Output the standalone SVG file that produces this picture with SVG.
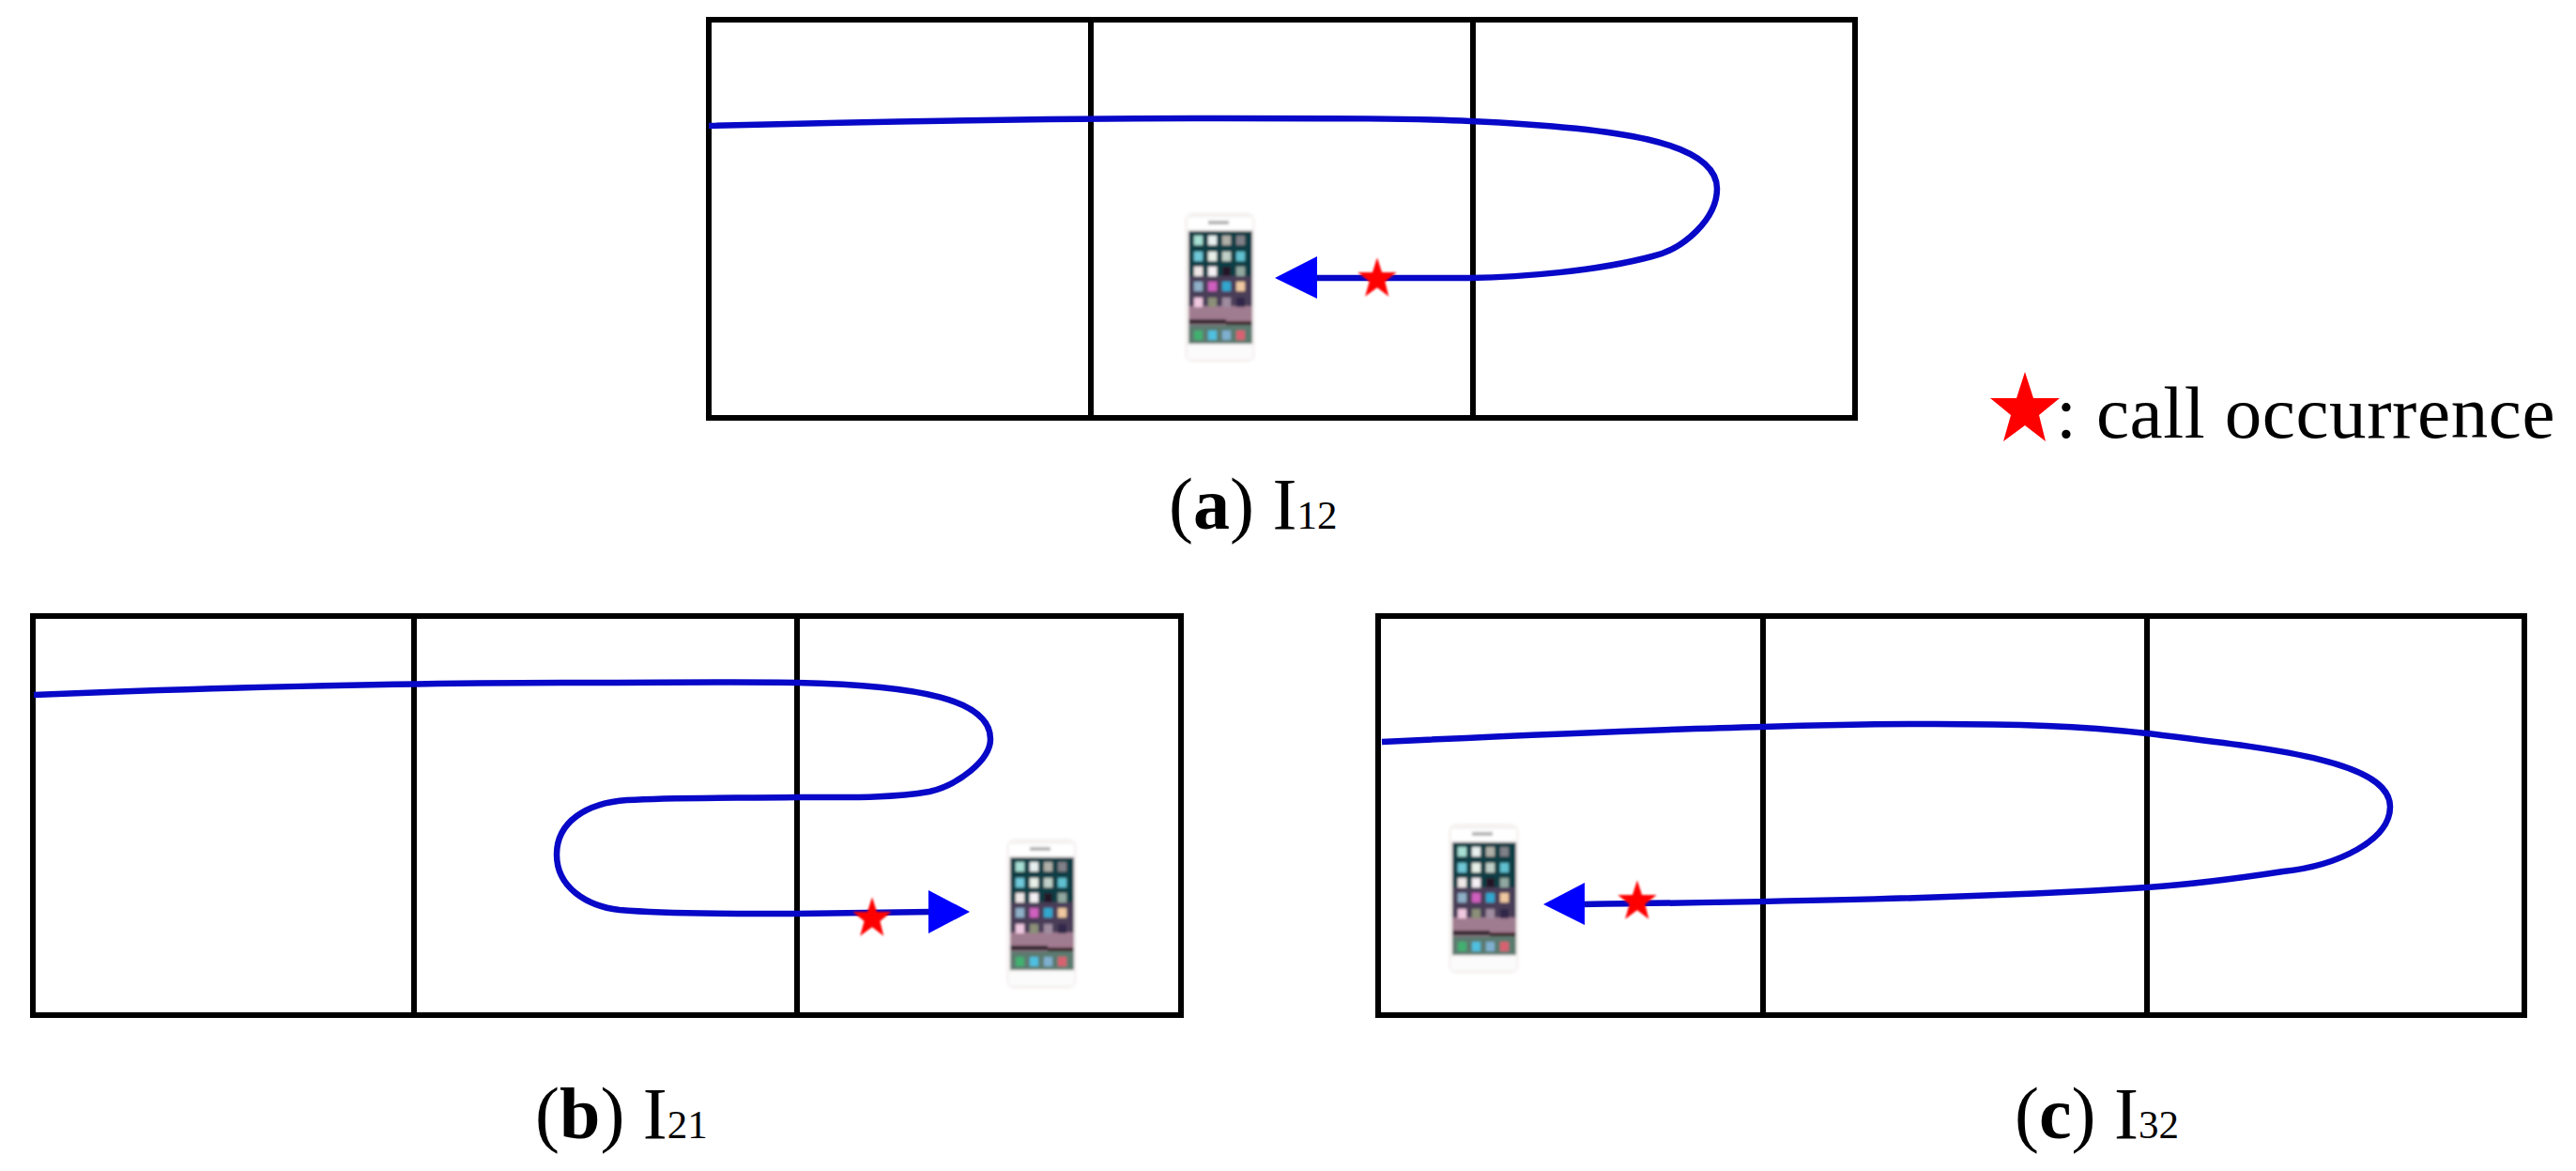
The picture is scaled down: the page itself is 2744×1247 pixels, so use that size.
<svg xmlns="http://www.w3.org/2000/svg" xmlns:xlink="http://www.w3.org/1999/xlink" width="2744" height="1247" viewBox="0 0 2744 1247">
<style>
.grid{fill:none;stroke:#000;stroke-width:6}
.route{fill:none;stroke:#0808c8;stroke-width:6.5;stroke-linejoin:round}
.head{fill:#0000ff}
.star{fill:#ff0000}
text{font-family:"Liberation Serif","Times New Roman",serif;fill:#000}
.cap{font-size:78px}
.cap .b{font-weight:bold}
.cap .s{font-size:43px}
.i{width:9px;height:10px}
</style>
<defs>
<filter id="soft" x="-10%" y="-10%" width="120%" height="120%"><feGaussianBlur stdDeviation="1.6"/></filter>
<filter id="softS" x="-20%" y="-20%" width="140%" height="140%"><feGaussianBlur stdDeviation="0.8"/></filter>
<polygon id="starShape" points="0,-37 9,-9 37,-9 15,9 22,37 0,20 -23,37 -15,9 -37,-9 -9,-9"/>
<g id="phone" filter="url(#soft)">
<rect x="0" y="0" width="75" height="160" rx="9" fill="#f6f2f2"/>
<rect x="3" y="6" width="69" height="12" fill="#ffffff"/>
<rect x="25" y="9" width="22" height="4" fill="#b0b0b0"/>
<rect x="3" y="142" width="69" height="14" fill="#fbfbfb"/>
<rect x="4" y="20" width="68" height="120" fill="#2c3a44"/>
<rect x="4" y="20" width="68" height="48" fill="#0f3c44"/>
<rect x="4" y="68" width="68" height="40" fill="#4a3c58"/>
<rect x="4" y="100" width="68" height="22" fill="#a07c90"/>
<rect x="4" y="114" width="40" height="5" fill="#30242c"/>
<rect x="44" y="116" width="28" height="6" fill="#40242c"/>
<rect x="4" y="120" width="68" height="20" fill="#5c7a70"/>
<rect class="i" x="10" y="25" fill="#a8e0d4"/>
<rect class="i" x="25" y="25" fill="#e8f0f0"/>
<rect class="i" x="40" y="25" fill="#b0b0a8"/>
<rect class="i" x="55" y="25" fill="#808088"/>
<rect class="i" x="10" y="42" fill="#70c8d8"/>
<rect class="i" x="25" y="42" fill="#e8f0e8"/>
<rect class="i" x="40" y="42" fill="#c0d0c8"/>
<rect class="i" x="55" y="42" fill="#60c0d0"/>
<rect class="i" x="10" y="58" fill="#f0e8e8"/>
<rect class="i" x="25" y="58" fill="#f4f0f4"/>
<rect class="i" x="40" y="58" fill="#201828"/>
<rect class="i" x="55" y="58" fill="#90a8a0"/>
<rect class="i" x="10" y="74" fill="#90b0c8"/>
<rect class="i" x="25" y="74" fill="#d060c0"/>
<rect class="i" x="40" y="74" fill="#30a8d0"/>
<rect class="i" x="55" y="74" fill="#f0c8a0"/>
<rect class="i" x="10" y="91" fill="#f0c8e0"/>
<rect class="i" x="25" y="91" fill="#8c9078"/>
<rect class="i" x="40" y="91" fill="#a08ca0"/>
<rect class="i" x="55" y="91" fill="#302848"/>
<rect class="i" x="10" y="126" fill="#40b070"/>
<rect class="i" x="25" y="126" fill="#50c0e0"/>
<rect class="i" x="40" y="126" fill="#80b0d0"/>
<rect class="i" x="55" y="126" fill="#d86070"/>
</g>
</defs>
<rect width="2744" height="1247" fill="#ffffff"/>

<g id="grid-a">
<rect class="grid" x="755" y="21" width="1221" height="424"/>
<path class="grid" d="M1162 21V445M1569 21V445"/>
</g>
<g id="grid-b">
<rect class="grid" x="35" y="656" width="1223" height="425"/>
<path class="grid" d="M441 656V1081M849 656V1081"/>
</g>
<g id="grid-c">
<rect class="grid" x="1468" y="656" width="1221" height="425"/>
<path class="grid" d="M1878 656V1081M2287 656V1081"/>
</g>

<g id="phone-a"><use xlink:href="#phone" href="#phone" x="1262" y="226"/></g>
<g id="phone-b"><use xlink:href="#phone" href="#phone" x="1072" y="893"/></g>
<g id="phone-c"><use xlink:href="#phone" href="#phone" x="1543" y="877"/></g>

<g id="connectors">
<path class="route" d="M755 134C950 129 1162 126 1300 126C1420 126 1510 126 1566 129C1720 136 1829 150 1829 201C1829 232 1795 265 1760 273C1700 289 1620 295 1566 296L1400 296"/>
<polygon class="head" points="1358,296 1403,273 1403,318"/>
<path class="route" d="M36 740C200 733 441 727 600 727C700 727 800 726 849 727C980 730 1055 745 1055 787C1055 810 1020 836 990 843C950 850 900 849 849 849C780 850 720 849 668 852C625 855 593 875 593 910C593 945 625 965 660 969C720 974 800 973 849 973L992 971"/>
<polygon class="head" points="1033,971 989,948 989,994"/>
<path class="route" d="M1472 790C1600 784 1750 777 1878 774C1980 771 2100 770 2180 773C2230 775 2260 778 2287 781C2420 797 2546 810 2546 859C2546 895 2490 922 2432 928C2380 936 2330 942 2287 945C2100 957 1900 960 1685 963"/>
<polygon class="head" points="1644,963 1688,940 1688,985"/>
</g>

<g id="star-a" filter="url(#softS)"><use xlink:href="#starShape" href="#starShape" class="star" transform="translate(1467 295) scale(.56)"/></g>
<g id="star-b" filter="url(#softS)"><use xlink:href="#starShape" href="#starShape" class="star" transform="translate(929 976) scale(.56)"/></g>
<g id="star-c" filter="url(#softS)"><use xlink:href="#starShape" href="#starShape" class="star" transform="translate(1744 958) scale(.56)"/></g>

<g id="legend">
<use xlink:href="#starShape" href="#starShape" class="star" transform="translate(2157 433)"/>
<text x="2190" y="466" font-size="79" letter-spacing="0.6">: call occurrence</text>
</g>

<g id="caption-a"><text class="cap" x="1245" y="563">(<tspan class="b">a</tspan>) I<tspan class="s">12</tspan></text></g>
<g id="caption-b"><text class="cap" x="570" y="1212">(<tspan class="b">b</tspan>) I<tspan class="s">21</tspan></text></g>
<g id="caption-c"><text class="cap" x="2146" y="1212">(<tspan class="b">c</tspan>) I<tspan class="s">32</tspan></text></g>
</svg>
